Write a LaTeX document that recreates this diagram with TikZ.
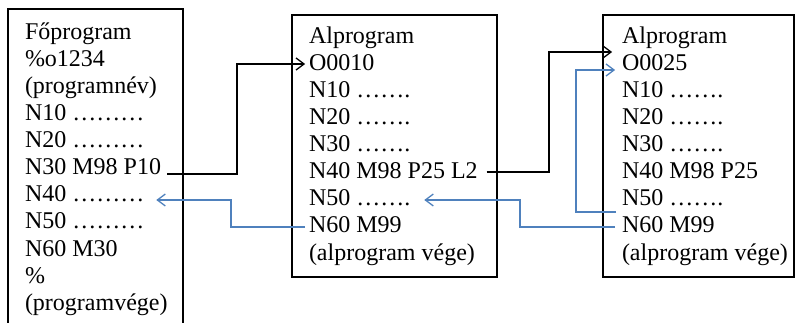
\documentclass[tikz,border=0pt]{standalone}
\usepackage{fontspec}
\setmainfont{Liberation Serif}
\definecolor{linkblue}{HTML}{4F81BD}
\tikzset{
  ln/.style={anchor=base west, inner sep=0pt, outer sep=0pt, font=\fontsize{24}{27}\selectfont},
  frame/.style={draw=black, line width=1.3pt},
  blk/.style={draw=black, line width=1.3pt},
  blu/.style={draw=linkblue, line width=1.3pt},
  vtip/.style={line width=1.3pt, line join=miter}
}
\begin{document}
\begin{tikzpicture}[x=1pt,y=1pt]
\useasboundingbox (0,0) rectangle (795,-323);
% frames
\draw[frame] (8,-324) -- (8,-9) -- (183,-9) -- (183,-324);
\draw[frame] (292,-15) rectangle (497,-277);
\draw[frame] (603,-15) rectangle (794,-277);
% main program
\node[ln] (a1) at (25,-40) {Főprogram};
\node[ln] (a2) at (25,-67) {\%o1234};
\node[ln] (a3) at (25,-94) {(programnév)};
\node[ln] (a4) at (25,-121) {N10 ………};
\node[ln] (a5) at (25,-148) {N20 ………};
\node[ln] (a6) at (25,-175) {N30 M98 P10};
\node[ln] (a7) at (25,-202) {N40 ………};
\node[ln] (a8) at (25,-229) {N50 ………};
\node[ln] (a9) at (25,-256) {N60 M30};
\node[ln] (a10) at (25,-283) {\%};
\node[ln] (a11) at (25,-310) {(programvége)};
% subprogram 1
\node[ln] (b1) at (309,-44) {Alprogram};
\node[ln] (b2) at (309,-71) {O0010};
\node[ln] (b3) at (309,-98) {N10 …….};
\node[ln] (b4) at (309,-125) {N20 …….};
\node[ln] (b5) at (309,-152) {N30 …….};
\node[ln] (b6) at (309,-179) {N40 M98 P25 L2};
\node[ln] (b7) at (309,-206) {N50 …….};
\node[ln] (b8) at (309,-233) {N60 M99};
\node[ln] (b9) at (309,-260) {(alprogram vége)};
% subprogram 2
\node[ln] (c1) at (622,-44) {Alprogram};
\node[ln] (c2) at (622,-71) {O0025};
\node[ln] (c3) at (622,-98) {N10 …….};
\node[ln] (c4) at (622,-125) {N20 …….};
\node[ln] (c5) at (622,-152) {N30 …….};
\node[ln] (c6) at (622,-179) {N40 M98 P25};
\node[ln] (c7) at (622,-206) {N50 …….};
\node[ln] (c8) at (622,-233) {N60 M99};
\node[ln] (c9) at (622,-260) {(alprogram vége)};
% tip points
\coordinate (t1) at ([xshift=-5pt,yshift=7pt]b2.base west);
\coordinate (t2) at ([xshift=13pt,yshift=2pt]a7.base east);
\coordinate (t3) at ([xshift=-11pt,yshift=19pt]c2.base west);
\coordinate (t4) at ([xshift=15pt,yshift=6pt]b7.base east);
\coordinate (t5) at ([xshift=-8pt,yshift=1pt]c2.base west);
% connectors
\draw[blk] ([xshift=6pt,yshift=1pt]a6.base east) -| (237,-64) -- (t1);
\draw[blk,vtip] ([xshift=-8pt,yshift=6pt]t1) -- (t1) -- ([xshift=-8pt,yshift=-6pt]t1);
\draw[blu] ([xshift=-4pt,yshift=6pt]b8.base west) -| (231,-200) -- (t2);
\draw[blu,vtip] ([xshift=8pt,yshift=6pt]t2) -- (t2) -- ([xshift=8pt,yshift=-6pt]t2);
\draw[blk] ([xshift=9pt,yshift=7pt]b6.base east) -| (549,-52) -- (t3);
\draw[blk,vtip] ([xshift=-8pt,yshift=6pt]t3) -- (t3) -- ([xshift=-8pt,yshift=-6pt]t3);
\draw[blu] ([xshift=-7pt,yshift=6pt]c8.base west) -| (520,-200) -- (t4);
\draw[blu,vtip] ([xshift=8pt,yshift=6pt]t4) -- (t4) -- ([xshift=8pt,yshift=-6pt]t4);
\draw[blu] ([xshift=-6pt,yshift=-6pt]c7.base west) -| (576,-70) -- (t5);
\draw[blu,vtip] ([xshift=-8pt,yshift=6pt]t5) -- (t5) -- ([xshift=-8pt,yshift=-6pt]t5);
\end{tikzpicture}
\end{document}
